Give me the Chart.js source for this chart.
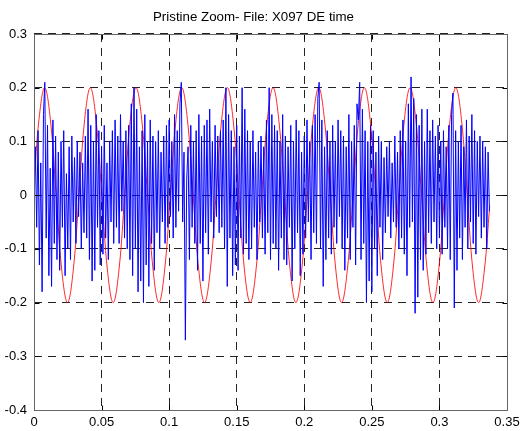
<!DOCTYPE html>
<html>
<head>
<meta charset="utf-8">
<script src="https://cdn.jsdelivr.net/npm/chart.js@4.4.1/dist/chart.umd.min.js"></script>
<style>
  html, body { margin: 0; padding: 0; background: #fff; }
  canvas { display: block; }
</style>
</head>
<body>
<canvas id="chart" width="527" height="431"></canvas>
<script>
const chartTitle = "Pristine Zoom- File: X097 DE time";

// axis ticks
const xTickValues = [0, 0.05, 0.1, 0.15, 0.2, 0.25, 0.3, 0.35];
const xTickLabels = ["0", "0.05", "0.1", "0.15", "0.2", "0.25", "0.3", "0.35"];
const yTickValues = [-0.4, -0.3, -0.2, -0.1, 0, 0.1, 0.2, 0.3];
const yTickLabels = ["-0.4", "-0.3", "-0.2", "-0.1", "0", "0.1", "0.2", "0.3"];

// red reference sine, read at peaks / eighth periods
const redT = [0, 0.0037,
  0.0079, 0.0121, 0.0164, 0.0206, 0.0248, 0.0290, 0.0333, 0.0375,
  0.0417, 0.0459, 0.0502, 0.0544, 0.0586, 0.0628, 0.0671, 0.0713,
  0.0755, 0.0797, 0.0840, 0.0882, 0.0924, 0.0966, 0.1009, 0.1051,
  0.1093, 0.1135, 0.1178, 0.1220, 0.1262, 0.1304, 0.1347, 0.1389,
  0.1431, 0.1473, 0.1516, 0.1558, 0.1600, 0.1642, 0.1685, 0.1727,
  0.1769, 0.1811, 0.1854, 0.1896, 0.1938, 0.1980, 0.2023, 0.2065,
  0.2107, 0.2149, 0.2192, 0.2234, 0.2276, 0.2318, 0.2361, 0.2403,
  0.2445, 0.2487, 0.2530, 0.2572, 0.2614, 0.2656, 0.2699, 0.2741,
  0.2783, 0.2825, 0.2868, 0.2910, 0.2952, 0.2994, 0.3037, 0.3079,
  0.3121, 0.3163, 0.3206, 0.3248, 0.3290, 0.3332, 0.3372];
const redV = [0.02, 0.141,
  0.2, 0.141, 0, -0.141, -0.2, -0.141, 0, 0.141,
  0.2, 0.141, 0, -0.141, -0.2, -0.141, 0, 0.141,
  0.2, 0.141, 0, -0.141, -0.2, -0.141, 0, 0.141,
  0.2, 0.141, 0, -0.141, -0.2, -0.141, 0, 0.141,
  0.2, 0.141, 0, -0.141, -0.2, -0.141, 0, 0.141,
  0.2, 0.141, 0, -0.141, -0.2, -0.141, 0, 0.141,
  0.2, 0.141, 0, -0.141, -0.2, -0.141, 0, 0.141,
  0.2, 0.141, 0, -0.141, -0.2, -0.141, 0, 0.141,
  0.2, 0.141, 0, -0.141, -0.2, -0.141, 0, 0.141,
  0.2, 0.141, 0, -0.141, -0.2, -0.141, -0.02];

// blue DE time signal, one value per millisecond
const sampleStep = 0.001;
const blueV = [
  -0.04, 0.09, -0.06, 0.12, -0.13, 0.06, -0.18, 0.15, 0.21, -0.08,
  0.13, -0.15, 0.05, -0.17, 0.14, -0.09, 0.11, -0.12, 0.08, -0.14,
  0.1, -0.06, 0.12, -0.15, 0.04, -0.1, 0.09, -0.12, 0.11, -0.05,
  0.07, -0.09, 0.1, -0.04, 0.08, -0.1, 0.06, -0.07, 0.11, -0.08,
  0.16, -0.12, 0.13, -0.16, 0.1, -0.14, 0.15, -0.06, 0.12, -0.13,
  0.09, -0.11, 0.13, -0.08, 0.06, -0.12, 0.1, -0.05, 0.12, -0.09,
  0.14, -0.06, 0.11, -0.09, 0.15, -0.03, 0.1, -0.08, 0.12, -0.1,
  0.13, -0.12, 0.17, -0.15, 0.2, -0.1, 0.16, -0.18, 0.09, -0.16,
  0.12, -0.2, 0.15, -0.13, 0.1, -0.17, 0.14, -0.09, 0.11, -0.14,
  0.1, -0.07, 0.12, -0.1, 0.08, -0.05, 0.11, -0.09, 0.13, -0.06,
  0.14, -0.04, 0.1, -0.08, 0.15, -0.06, 0.12, -0.03, 0.17, 0.21,
  -0.05, 0.08, -0.27, 0.03, 0.09, -0.12, 0.13, -0.06, 0.1, -0.09,
  0.12, -0.14, 0.15, -0.09, 0.11, -0.16, 0.13, -0.07, 0.14, -0.11,
  0.16, -0.05, 0.1, -0.08, 0.13, -0.04, 0.11, -0.07, 0.12, -0.06,
  0.14, -0.1, 0.2, -0.17, 0.15, -0.08, 0.12, -0.15, 0.09, -0.13,
  0.13, -0.14, 0.11, -0.08, 0.2, -0.11, 0.16, -0.09, 0.12, -0.12,
  0.1, -0.1, 0.12, -0.06, 0.08, -0.12, 0.1, -0.05, 0.11, -0.08,
  0.09, -0.11, 0.14, -0.07, 0.2, -0.12, 0.15, -0.09, 0.13, -0.1,
  0.12, -0.14, 0.1, -0.08, 0.15, -0.12, 0.11, -0.13, 0.09, -0.06,
  0.13, -0.16, 0.1, -0.1, 0.14, -0.07, 0.12, -0.15, 0.08, -0.11,
  0.11, -0.08, 0.14, -0.05, 0.1, -0.12, 0.13, -0.07, 0.15, -0.09,
  0.18, 0.21, -0.1, 0.14, -0.17, 0.09, -0.12, 0.12, -0.08, 0.1,
  -0.11, 0.13, -0.06, 0.1, -0.09, 0.14, -0.04, 0.12, -0.1, 0.11,
  -0.14, 0.09, -0.08, 0.15, -0.12, 0.1, -0.06, 0.13, -0.13, 0.17,
  0.14, 0.21, -0.12, 0.16, -0.09, 0.12, -0.2, 0.1, -0.16, 0.13,
  -0.18, 0.12, -0.1, 0.08, -0.15, 0.11, -0.06, 0.1, -0.12, 0.07,
  -0.07, 0.09, -0.04, 0.1, -0.08, 0.06, -0.05, 0.11, -0.06, 0.08,
  -0.1, 0.12, -0.08, 0.14, -0.11, 0.1, -0.15, 0.17, -0.06, 0.22,
  -0.05, 0.18, -0.22, 0.15, -0.19, 0.13, -0.12, 0.16, -0.14, 0.1,
  -0.11, 0.16, -0.07, 0.12, -0.09, 0.14, -0.05, 0.11, -0.1, 0.13,
  -0.08, 0.1, -0.11, 0.12, -0.06, 0.09, -0.1, 0.13, -0.12, 0.15,
  0.19, -0.21, 0.12, -0.14, 0.1, -0.08, 0.13, -0.12, 0.09, -0.06,
  0.14, -0.1, 0.11, -0.05, 0.15, -0.09, 0.12, -0.11, 0.1, -0.04,
  0.11, -0.08, 0.1, -0.06, 0.09, -0.1, 0.08, -0.03
];

const fontFamily = "'Liberation Sans', Arial, sans-serif";

// box round the plot plus the small inner tick marks
const frameTicks = {
  id: "frameTicks",
  afterDraw(chart) {
    const { ctx, chartArea: a, scales: { x, y } } = chart;
    const l = Math.round(a.left) + 0.5, r = Math.round(a.right) + 0.5;
    const t = Math.round(a.top) + 0.5, b = Math.round(a.bottom) + 0.5;
    ctx.save();
    ctx.lineWidth = 1;
    ctx.strokeStyle = "#000";
    ctx.beginPath();
    for (const v of xTickValues) {
      const px = Math.round(x.getPixelForValue(v)) + 0.5;
      ctx.moveTo(px, b); ctx.lineTo(px, b - 5);
      ctx.moveTo(px, t); ctx.lineTo(px, t + 5);
    }
    for (const v of yTickValues) {
      const py = Math.round(y.getPixelForValue(v)) + 0.5;
      ctx.moveTo(l, py); ctx.lineTo(l + 5, py);
      ctx.moveTo(r, py); ctx.lineTo(r - 5, py);
    }
    ctx.stroke();
    ctx.strokeStyle = "#666";
    ctx.strokeRect(l, t, r - l, b - t);
    ctx.restore();
  }
};

new Chart(document.getElementById("chart"), {
  type: "line",
  data: {
    datasets: [
      {
        label: "DE time",
        data: blueV.map((v, i) => ({ x: i * sampleStep, y: v })),
        borderColor: "#0000ff",
        borderWidth: 1,
        pointRadius: 0,
        tension: 0
      },
      {
        label: "reference",
        data: redT.map((t, i) => ({ x: t, y: redV[i] })),
        borderColor: "rgba(255, 0, 0, 0.85)",
        borderWidth: 1,
        pointRadius: 0,
        tension: 0.4
      }
    ]
  },
  options: {
    responsive: false,
    animation: false,
    devicePixelRatio: 1,
    layout: { padding: { left: 0, right: 20, top: 0, bottom: 0 } },
    plugins: {
      legend: { display: false },
      tooltip: { enabled: false },
      title: {
        display: true,
        text: chartTitle,
        color: "#000",
        font: { family: fontFamily, size: 13.3, weight: "normal" },
        padding: { top: 9, bottom: 9 }
      }
    },
    scales: {
      x: {
        type: "linear",
        min: 0,
        max: 0.35,
        z: 1,
        afterBuildTicks: s => { s.ticks = xTickValues.map(v => ({ value: v })); },
        afterFit: s => { s.height = 21; },
        grid: { color: "#222", drawTicks: false },
        border: { display: false, dash: [8, 6] },
        ticks: {
          color: "#000",
          font: { family: fontFamily, size: 13 },
          padding: 5,
          maxRotation: 0,
          autoSkip: false,
          callback: (v, i) => xTickLabels[i]
        }
      },
      y: {
        type: "linear",
        min: -0.4,
        max: 0.3,
        z: 1,
        afterBuildTicks: s => { s.ticks = yTickValues.map(v => ({ value: v })); },
        afterFit: s => { s.width = 34; },
        grid: { color: "#222", drawTicks: false },
        border: { display: false, dash: [8, 6] },
        ticks: {
          color: "#000",
          font: { family: fontFamily, size: 13 },
          padding: 7,
          autoSkip: false,
          callback: (v, i) => yTickLabels[i]
        }
      }
    }
  },
  plugins: [frameTicks]
});
</script>
</body>
</html>
